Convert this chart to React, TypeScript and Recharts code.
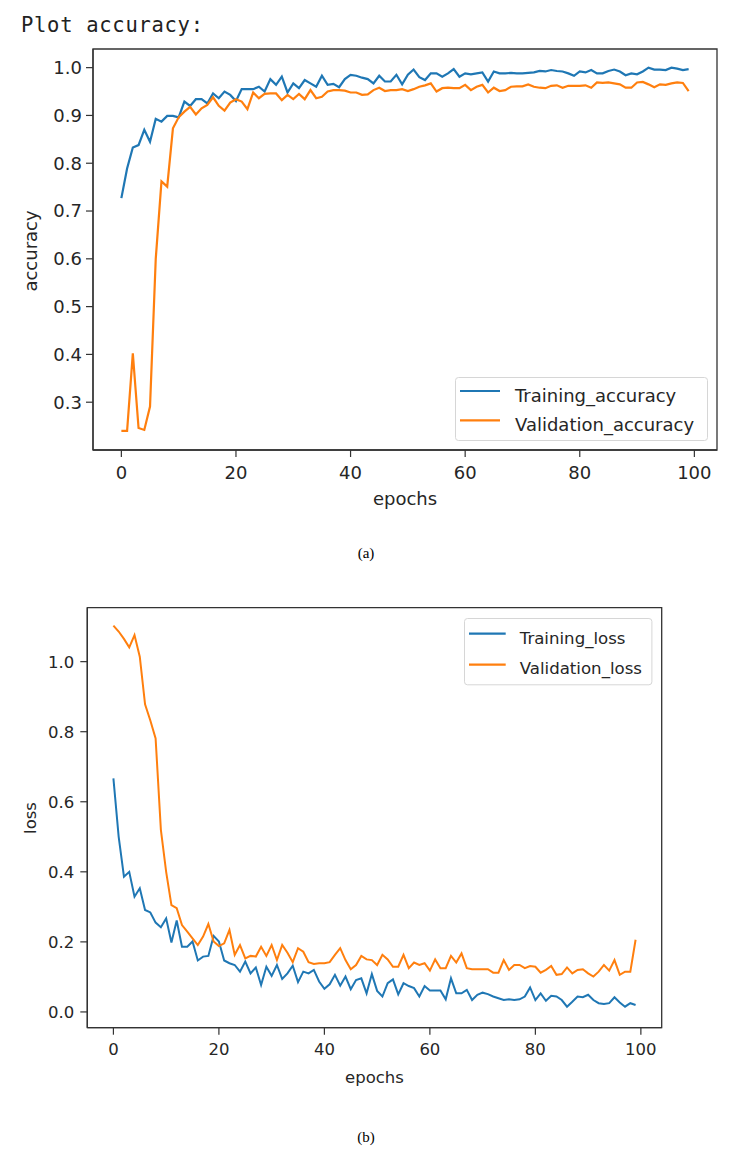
import React from 'react';
import { LineChart, Line, XAxis, YAxis, Legend, ReferenceArea } from 'recharts';

const epochs: number[] = Array.from({ length: 100 }, (_, i) => i);

const trainingAccuracy = [
  0.727, 0.789, 0.833, 0.838, 0.870, 0.845, 0.893, 0.887, 0.899, 0.899,
  0.896, 0.929, 0.920, 0.934, 0.934, 0.925, 0.946, 0.936, 0.950, 0.943,
  0.930, 0.955, 0.955, 0.955, 0.960, 0.950, 0.976, 0.964, 0.981, 0.948,
  0.967, 0.957, 0.974, 0.967, 0.960, 0.983, 0.964, 0.966, 0.959, 0.976,
  0.985, 0.983, 0.979, 0.976, 0.967, 0.983, 0.971, 0.971, 0.985, 0.965,
  0.985, 0.996, 0.980, 0.974, 0.988, 0.988, 0.981, 0.988, 0.997, 0.981,
  0.988, 0.986, 0.988, 0.990, 0.971, 0.992, 0.988, 0.988, 0.989, 0.988,
  0.988, 0.989, 0.990, 0.993, 0.992, 0.995, 0.993, 0.992, 0.988, 0.983,
  0.992, 0.990, 0.995, 0.988, 0.988, 0.993, 0.996, 0.992, 0.984, 0.988,
  0.986, 0.992, 1.000, 0.996, 0.996, 0.995, 1.000, 0.998, 0.995, 0.997,
];

const validationAccuracy = [
  0.240, 0.240, 0.402, 0.246, 0.242, 0.291, 0.600, 0.762, 0.751, 0.873,
  0.896, 0.908, 0.918, 0.902, 0.915, 0.922, 0.938, 0.920, 0.910, 0.927,
  0.934, 0.929, 0.913, 0.948, 0.936, 0.945, 0.946, 0.946, 0.932, 0.943,
  0.934, 0.945, 0.934, 0.953, 0.936, 0.939, 0.950, 0.953, 0.953, 0.952,
  0.948, 0.948, 0.943, 0.944, 0.953, 0.958, 0.951, 0.953, 0.953, 0.955,
  0.951, 0.955, 0.960, 0.963, 0.967, 0.950, 0.957, 0.958, 0.957, 0.957,
  0.964, 0.953, 0.960, 0.964, 0.948, 0.958, 0.951, 0.953, 0.960, 0.961,
  0.961, 0.965, 0.960, 0.958, 0.957, 0.962, 0.963, 0.958, 0.962, 0.962,
  0.962, 0.963, 0.958, 0.969, 0.968, 0.969, 0.967, 0.965, 0.958, 0.958,
  0.969, 0.970, 0.965, 0.959, 0.965, 0.964, 0.967, 0.969, 0.968, 0.951,
];

const trainingLoss = [
  0.667, 0.500, 0.386, 0.400, 0.329, 0.353, 0.291, 0.284, 0.255, 0.242,
  0.267, 0.198, 0.261, 0.186, 0.186, 0.201, 0.147, 0.158, 0.160, 0.217,
  0.201, 0.147, 0.139, 0.134, 0.115, 0.144, 0.110, 0.127, 0.077, 0.129,
  0.103, 0.134, 0.094, 0.110, 0.132, 0.085, 0.115, 0.110, 0.120, 0.087,
  0.066, 0.079, 0.106, 0.075, 0.101, 0.065, 0.091, 0.096, 0.053, 0.108,
  0.060, 0.044, 0.082, 0.093, 0.050, 0.082, 0.074, 0.068, 0.044, 0.074,
  0.061, 0.061, 0.061, 0.036, 0.096, 0.053, 0.053, 0.063, 0.034, 0.049,
  0.055, 0.051, 0.044, 0.039, 0.034, 0.036, 0.034, 0.036, 0.044, 0.070,
  0.034, 0.053, 0.032, 0.046, 0.044, 0.034, 0.015, 0.029, 0.044, 0.042,
  0.049, 0.034, 0.025, 0.023, 0.025, 0.042, 0.027, 0.015, 0.025, 0.020,
];

const validationLoss = [
  1.103, 1.086, 1.065, 1.041, 1.076, 1.014, 0.878, 0.832, 0.781, 0.520,
  0.400, 0.305, 0.296, 0.248, 0.229, 0.210, 0.191, 0.215, 0.251, 0.201,
  0.188, 0.196, 0.234, 0.163, 0.191, 0.153, 0.160, 0.158, 0.186, 0.160,
  0.191, 0.148, 0.191, 0.169, 0.142, 0.182, 0.172, 0.142, 0.137, 0.139,
  0.139, 0.142, 0.163, 0.182, 0.148, 0.122, 0.134, 0.160, 0.150, 0.148,
  0.134, 0.163, 0.150, 0.129, 0.129, 0.163, 0.125, 0.141, 0.134, 0.139,
  0.118, 0.150, 0.125, 0.125, 0.160, 0.141, 0.167, 0.125, 0.122, 0.122,
  0.122, 0.122, 0.112, 0.112, 0.148, 0.120, 0.134, 0.134, 0.125, 0.131,
  0.129, 0.112, 0.120, 0.131, 0.106, 0.108, 0.127, 0.110, 0.120, 0.122,
  0.110, 0.101, 0.115, 0.134, 0.118, 0.148, 0.106, 0.115, 0.115, 0.206,
];

const xTicks = [0, 20, 40, 60, 80, 100];
const accTicks = [0.3, 0.4, 0.5, 0.6, 0.7, 0.8, 0.9, 1.0];
const lossTicks = [0.0, 0.2, 0.4, 0.6, 0.8, 1.0];

const xDomain: [number, number] = [-4.95, 103.95];
const accDomain: [number, number] = [0.2, 1.039];
const lossDomain: [number, number] = [-0.045, 1.154];

const BLUE = '#1f77b4';
const ORANGE = '#ff7f0e';
const SPINE = '#333333';
const TEXT = '#262626';

const accData = epochs.map((e, i) => ({ epoch: e, train: trainingAccuracy[i], val: validationAccuracy[i] }));
const lossData = epochs.map((e, i) => ({ epoch: e, train: trainingLoss[i], val: validationLoss[i] }));

type LegendCfg = {
  w: number; h: number; hx1: number; hx2: number; ys: number[]; bases: number[]; tx: number; fs: number; labels: string[];
};

const makeLegend = (cfg: LegendCfg) => () => (
  <svg width={cfg.w} height={cfg.h} style={{ display: 'block', overflow: 'visible' }}>
    <rect x={0.5} y={0.5} width={cfg.w - 1} height={cfg.h - 1} rx={3} ry={3} fill="rgba(255,255,255,0.8)" stroke="#d6d6d6" strokeWidth={1} />
    {cfg.labels.map((lab, k) => (
      <g key={k}>
        <line x1={cfg.hx1} x2={cfg.hx2} y1={cfg.ys[k]} y2={cfg.ys[k]} stroke={k === 0 ? BLUE : ORANGE} strokeWidth={2.2} />
        <text x={cfg.tx} y={cfg.bases[k]} fontFamily="DejaVu Sans" fontSize={cfg.fs} fill={TEXT}>{lab}</text>
      </g>
    ))}
  </svg>
);

const accLegend = makeLegend({
  w: 253, h: 64, hx1: 5, hx2: 45, ys: [14, 43.3], bases: [25, 54.3], tx: 60, fs: 18,
  labels: ['Training_accuracy', 'Validation_accuracy'],
});
const lossLegend = makeLegend({
  w: 188.4, h: 67.3, hx1: 5, hx2: 41.7, ys: [15.6, 46.6], bases: [25.6, 56.3], tx: 55.7, fs: 16.6,
  labels: ['Training_loss', 'Validation_loss'],
});

const fmt1 = (v: number) => v.toFixed(1);

export default function App() {
  return (
    <div style={{ position: 'absolute', left: 0, top: 0, width: 732, height: 1154, background: '#fff' }}>
      {/* Top chart */}
      <div style={{ position: 'absolute', left: 0, top: 0 }}>
        <LineChart width={732} height={540} data={accData} margin={{ top: 49, right: 15, bottom: 30, left: 0 }}>
          <XAxis dataKey="epoch" type="number" domain={xDomain} ticks={xTicks} allowDataOverflow
            height={60} tickSize={7} tickMargin={9} stroke={SPINE} strokeWidth={1.3}
            tick={{ fill: TEXT, fontSize: 18, fontFamily: 'DejaVu Sans' }} tickLine={{ stroke: SPINE, strokeWidth: 1.2 }} />
          <YAxis type="number" domain={accDomain} ticks={accTicks} allowDataOverflow width={93}
            tickSize={7} tickMargin={4} tickFormatter={fmt1} stroke={SPINE} strokeWidth={1.3}
            tick={{ fill: TEXT, fontSize: 18, fontFamily: 'DejaVu Sans' }} tickLine={{ stroke: SPINE, strokeWidth: 1.2 }} />
          <ReferenceArea x1={xDomain[0]} x2={xDomain[1]} y1={accDomain[0]} y2={accDomain[1]}
            fill="none" fillOpacity={0} stroke={SPINE} strokeWidth={1.3} ifOverflow="visible" />
          <Line dataKey="train" name="Training_accuracy" stroke={BLUE} strokeWidth={2.2} dot={false} isAnimationActive={false} />
          <Line dataKey="val" name="Validation_accuracy" stroke={ORANGE} strokeWidth={2.2} dot={false} isAnimationActive={false} />
          <Legend layout="horizontal" verticalAlign="middle" align="center" content={accLegend}
            wrapperStyle={{ position: 'absolute', left: 455, top: 376.7, width: 253, height: 64 }} />
        </LineChart>
      </div>

      {/* Bottom chart */}
      <div style={{ position: 'absolute', left: 0, top: 560 }}>
        <LineChart width={732} height={540} data={lossData} margin={{ top: 47.7, right: 70.3, bottom: 12.3, left: 0 }}>
          <XAxis dataKey="epoch" type="number" domain={xDomain} ticks={xTicks} allowDataOverflow
            height={60} tickSize={7} tickMargin={9} stroke={SPINE} strokeWidth={1.3}
            tick={{ fill: TEXT, fontSize: 16.5, fontFamily: 'DejaVu Sans' }} tickLine={{ stroke: SPINE, strokeWidth: 1.2 }} />
          <YAxis type="number" domain={lossDomain} ticks={lossTicks} allowDataOverflow width={87.3}
            tickSize={7} tickMargin={6} tickFormatter={fmt1} stroke={SPINE} strokeWidth={1.3}
            tick={{ fill: TEXT, fontSize: 16.5, fontFamily: 'DejaVu Sans' }} tickLine={{ stroke: SPINE, strokeWidth: 1.2 }} />
          <ReferenceArea x1={xDomain[0]} x2={xDomain[1]} y1={lossDomain[0]} y2={lossDomain[1]}
            fill="none" fillOpacity={0} stroke={SPINE} strokeWidth={1.3} ifOverflow="visible" />
          <Line dataKey="train" name="Training_loss" stroke={BLUE} strokeWidth={2} dot={false} isAnimationActive={false} />
          <Line dataKey="val" name="Validation_loss" stroke={ORANGE} strokeWidth={2} dot={false} isAnimationActive={false} />
          <Legend layout="horizontal" verticalAlign="middle" align="center" content={lossLegend}
            wrapperStyle={{ position: 'absolute', left: 464.3, top: 57.7, width: 188.4, height: 67.3 }} />
        </LineChart>
      </div>

      {/* Text overlay */}
      <svg width={732} height={1154} style={{ position: 'absolute', left: 0, top: 0, pointerEvents: 'none' }}>
        <text x={21} y={31.5} fontFamily="DejaVu Sans Mono" fontSize={20.5} fill="#222" textLength={182} lengthAdjust="spacing">Plot accuracy:</text>
        <text x={36.7} y={251} transform="rotate(-90 36.7 251)" textAnchor="middle" fontFamily="DejaVu Sans" fontSize={18} fill={TEXT}>accuracy</text>
        <text x={405} y={505} textAnchor="middle" fontFamily="DejaVu Sans" fontSize={18} fill={TEXT}>epochs</text>
        <text x={366} y={558} textAnchor="middle" fontFamily="Liberation Serif" fontSize={15} fill="#000">(a)</text>
        <text x={35.5} y={818} transform="rotate(-90 35.5 818)" textAnchor="middle" fontFamily="DejaVu Sans" fontSize={16.5} fill={TEXT}>loss</text>
        <text x={374.5} y={1083.3} textAnchor="middle" fontFamily="DejaVu Sans" fontSize={16.5} fill={TEXT}>epochs</text>
        <text x={366} y={1142} textAnchor="middle" fontFamily="Liberation Serif" fontSize={15} fill="#000">(b)</text>
      </svg>
    </div>
  );
}
